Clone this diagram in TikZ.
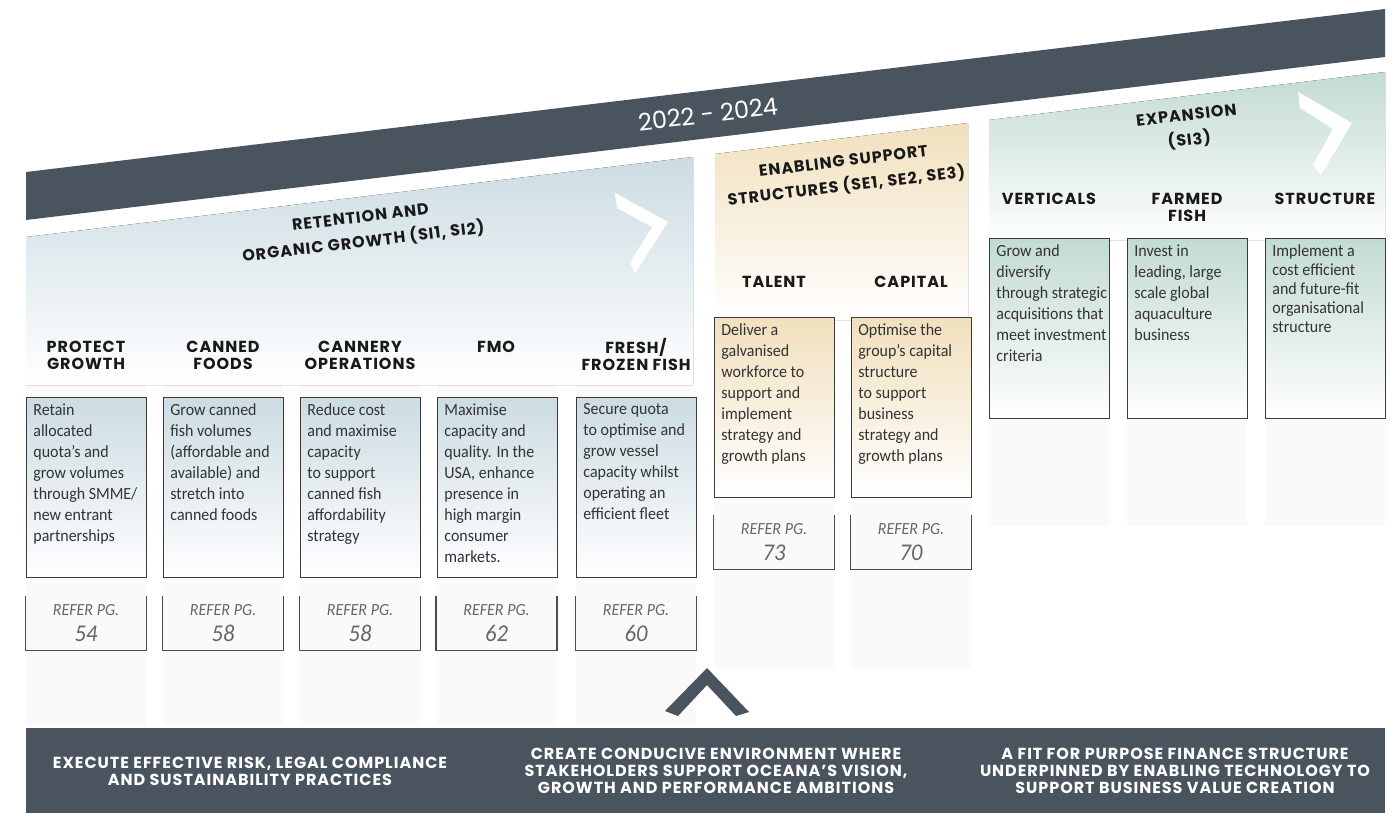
\documentclass[tikz,border=0pt]{standalone}
\usepackage{fontspec}
\setmainfont{Carlito}[FakeStretch=0.94]
\newfontfamily\headfont{Poppins}[LetterSpace=6]
\newfontfamily\yearfont{Poppins}
\usetikzlibrary{positioning}

\definecolor{slate}{HTML}{4A545E}
\definecolor{retblue}{HTML}{CCDCE2}
\definecolor{supgold}{HTML}{F1E0BD}
\definecolor{expgreen}{HTML}{C2DBD1}
\definecolor{inkgrey}{HTML}{3A3A3A}

\begin{document}
\begin{tikzpicture}[x=0.5pt,y=-0.5pt,
 head/.style={font=\headfont\bfseries\fontsize{8}{8.5}\selectfont,
 align=center,anchor=north,inner sep=0pt,text=black!90},
 pillar/.style={font=\headfont\bfseries\fontsize{8}{12.5}\selectfont,
 align=center,rotate=6.84,inner sep=0pt,text=black!90},
 aim/.style={draw=inkgrey,line width=0.7pt,anchor=north west,inner sep=0pt,
 minimum width=60pt,minimum height=90pt,top color=#1,bottom color=white},
 aimtext/.style={anchor=north west,align=left,inner sep=0pt,
 font=\fontsize{8.5}{10.5}\selectfont,text=black!80},
 refer/.style={minimum width=60pt,minimum height=27pt,inner sep=0pt,
 align=center,font=\itshape\fontsize{8.5}{9}\selectfont,text=black!60},
 side/.style={draw=black!70,line width=0.7pt},
 strip/.style={fill=black!2},
 foot/.style={font=\headfont\bfseries\fontsize{8}{8.5}\selectfont,
 align=center,inner sep=0pt,text=white}]
\useasboundingbox (0,0) rectangle (1400,813);

% faint column strips
\fill[strip] (26,385) rectangle (146,725);
\fill[strip] (163,385) rectangle (283,725);
\fill[strip] (300,385) rectangle (420,725);
\fill[strip] (437,385) rectangle (556,725);
\fill[strip] (576,385) rectangle (696,725);
\fill[strip] (714,320) rectangle (834,668);
\fill[strip] (851,320) rectangle (971,668);
\fill[strip] (989,240) rectangle (1109,526);
\fill[strip] (1127,240) rectangle (1247,526);
\fill[strip] (1265,240) rectangle (1385,526);

% time banner and the three pillars
\fill[slate] (26,172) -- (1385,9) -- (1385,57) -- (26,220) -- cycle;
\node[font=\yearfont\fontsize{12}{14}\selectfont,text=white,rotate=6.84]
 (years) at (708,114) {2022 - 2024};

\fill[top color=retblue,middle color=retblue,bottom color=white]
 (26,237) -- (693,157) -- (693,385) -- (26,385) -- cycle;
\fill[top color=supgold,middle color=supgold!80!white,bottom color=white]
 (715,154) -- (968,123) -- (968,320) -- (715,320) -- cycle;
\fill[top color=expgreen,middle color=expgreen!70!white,bottom color=white]
 (989,120) -- (1385,72) -- (1385,240) -- (989,240) -- cycle;

\fill[white] (615,193) -- (668,222) -- (635,273) -- (630,263) -- (652,227)
 -- (617,208) -- cycle;
\fill[white] (1298,92) -- (1352,123) -- (1321,175) -- (1313,165)
 -- (1333,129) -- (1300,108) -- cycle;

\node[pillar] (retention) at (362,231) {RETENTION AND\\ORGANIC GROWTH (SI1, SI2)};
\node[pillar] (enabling) at (845,175) {ENABLING SUPPORT\\STRUCTURES (SE1, SE2, SE3)};
\node[pillar] (expansion) at (1188,129) {EXPANSION\\(SI3)};

% retention and organic growth
\node[head] (hprotect) at (86,341) {PROTECT\\GROWTH};
\node[head] (hcanned) at (223,341) {CANNED\\FOODS};
\node[head] (hcannery) at (360,341) {CANNERY\\OPERATIONS};
\node[head] (hfmo) at (496,341) {FMO};
\node[head] (hfresh) at (636,338) {FRESH/\\FROZEN FISH};

\node[aim=retblue] (protect) at (26,397) {};
\node[aim=retblue] (canned) at (163,397) {};
\node[aim=retblue] (cannery) at (300,397) {};
\node[aim=retblue] (fmo) at (437,397) {};
\node[aim=retblue] (fresh) at (576,397) {};

\node[aimtext] at ([shift={(7,6)}]protect.north west)
 {Retain\\allocated\\quota’s and\\grow volumes\\through SMME/\\new entrant\\partnerships};
\node[aimtext] at ([shift={(7,6)}]canned.north west)
 {Grow canned\\fish volumes\\(affordable and\\available) and\\stretch into\\canned foods};
\node[aimtext] at ([shift={(7,6)}]cannery.north west)
 {Reduce cost\\and maximise\\capacity\\to support\\canned fish\\affordability\\strategy};
\node[aimtext] at ([shift={(7,6)}]fmo.north west)
 {Maximise\\capacity and\\quality. In the\\USA, enhance\\presence in\\high margin\\consumer\\markets.};
\node[aimtext] at ([shift={(7,6)}]fresh.north west)
 {Secure quota\\to optimise and\\grow vessel\\capacity whilst\\operating an\\efficient fleet};

\node[refer] (rprotect) at (86,623) {REFER PG.\\[4pt]{\fontsize{12}{13}\selectfont 54}};
\node[refer] (rcanned) at (223,623) {REFER PG.\\[4pt]{\fontsize{12}{13}\selectfont 58}};
\node[refer] (rcannery) at (360,623) {REFER PG.\\[4pt]{\fontsize{12}{13}\selectfont 58}};
\node[refer] (rfmo) at (496.5,623) {REFER PG.\\[4pt]{\fontsize{12}{13}\selectfont 62}};
\node[refer] (rfresh) at (636,623) {REFER PG.\\[4pt]{\fontsize{12}{13}\selectfont 60}};

% enabling support structures
\node[head] (htalent) at (774,276) {TALENT};
\node[head] (hcapital) at (911,276) {CAPITAL};
\node[aim=supgold] (talent) at (714,317) {};
\node[aim=supgold] (capital) at (851,317) {};
\node[aimtext] at ([shift={(7,6)}]talent.north west)
 {Deliver a\\galvanised\\workforce to\\support and\\implement\\strategy and\\growth plans};
\node[aimtext] at ([shift={(7,6)}]capital.north west)
 {Optimise the\\group’s capital\\structure\\to support\\business\\strategy and\\growth plans};
\node[refer] (rtalent) at (774,542) {REFER PG.\\[4pt]{\fontsize{12}{13}\selectfont 73}};
\node[refer] (rcapital) at (911,542) {REFER PG.\\[4pt]{\fontsize{12}{13}\selectfont 70}};

% expansion
\node[head] (hverticals) at (1049,193) {VERTICALS};
\node[head] (hfarmed) at (1187,193) {FARMED\\FISH};
\node[head] (hstructure) at (1325,193) {STRUCTURE};
\node[aim=expgreen] (verticals) at (989,238) {};
\node[aim=expgreen] (farmed) at (1127,238) {};
\node[aim=expgreen] (structure) at (1265,238) {};
\node[aimtext] at ([shift={(7,6)}]verticals.north west)
 {Grow and\\diversify\\through strategic\\acquisitions that\\meet investment\\criteria};
\node[aimtext] at ([shift={(7,6)}]farmed.north west)
 {Invest in\\leading, large\\scale global\\aquaculture\\business};
\node[aimtext,font=\fontsize{8.5}{9.5}\selectfont] at ([shift={(7,6)}]structure.north west)
 {Implement a\\cost efficient\\and future-fit\\organisational\\structure};

% open-topped page reference boxes
\foreach \r in {rprotect,rcanned,rcannery,rfmo,rfresh,rtalent,rcapital}
 \draw[side] (\r.north west) -- (\r.south west) -- (\r.south east) -- (\r.north east);

% foundation bar
\fill[slate] (707,668) -- (749,712) -- (736,716) -- (707,685) -- (678,716)
 -- (665,711) -- cycle;
\fill[slate] (26,728) rectangle (1385,813);
\node[foot] (risk) at (250,771)
 {EXECUTE EFFECTIVE RISK, LEGAL COMPLIANCE\\AND SUSTAINABILITY PRACTICES};
\node[foot] (stake) at (716,771)
 {CREATE CONDUCIVE ENVIRONMENT WHERE\\STAKEHOLDERS SUPPORT OCEANA’S VISION,\\GROWTH AND PERFORMANCE AMBITIONS};
\node[foot] (finance) at (1175,771)
 {A FIT FOR PURPOSE FINANCE STRUCTURE\\UNDERPINNED BY ENABLING TECHNOLOGY TO\\SUPPORT BUSINESS VALUE CREATION};
\end{tikzpicture}
\end{document}
